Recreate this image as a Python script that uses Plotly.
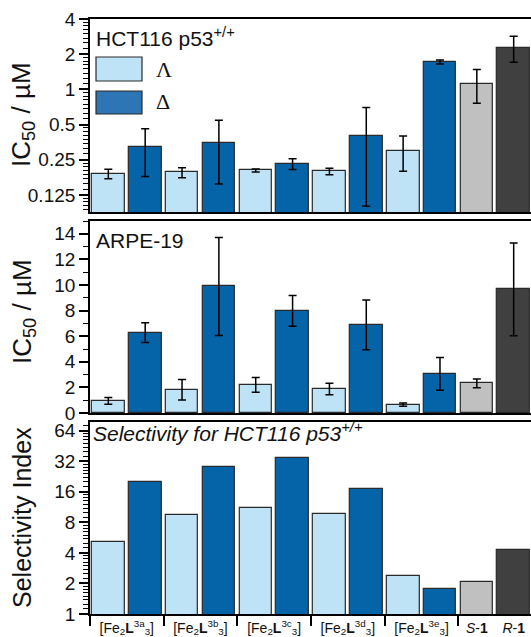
import numpy as np
import plotly.graph_objects as go

# ---------------- data ----------------
bar_names = ["Λ-[Fe2L3a3]", "Δ-[Fe2L3a3]", "Λ-[Fe2L3b3]", "Δ-[Fe2L3b3]",
             "Λ-[Fe2L3c3]", "Δ-[Fe2L3c3]", "Λ-[Fe2L3d3]", "Δ-[Fe2L3d3]",
             "Λ-[Fe2L3e3]", "Δ-[Fe2L3e3]", "S-1", "R-1"]
bar_kind = ["Λ", "Δ", "Λ", "Δ", "Λ", "Δ", "Λ", "Δ", "Λ", "Δ", "S", "R"]

hct_ic50 = [0.19, 0.32, 0.195, 0.35, 0.203, 0.231, 0.199, 0.40, 0.30, 1.72, 1.12, 2.28]
hct_err = [0.018, 0.14, 0.019, 0.195, 0.006, 0.024, 0.013, 0.30, 0.10, 0.067, 0.36, 0.57]

arpe_ic50 = [0.95, 6.28, 1.82, 9.89, 2.20, 7.97, 1.88, 6.88, 0.66, 3.05, 2.32, 9.66]
arpe_err = [0.27, 0.77, 0.80, 3.83, 0.58, 1.20, 0.45, 1.94, 0.13, 1.28, 0.34, 3.63]

selectivity = [5.08, 19.8, 9.5, 28.0, 11.0, 34.1, 9.6, 17.2, 2.38, 1.78, 2.07, 4.26]

group_labels = ["[Fe<sub>2</sub><b>L</b><sup>3a</sup><sub>3</sub>]",
                "[Fe<sub>2</sub><b>L</b><sup>3b</sup><sub>3</sub>]",
                "[Fe<sub>2</sub><b>L</b><sup>3c</sup><sub>3</sub>]",
                "[Fe<sub>2</sub><b>L</b><sup>3d</sup><sub>3</sub>]",
                "[Fe<sub>2</sub><b>L</b><sup>3e</sup><sub>3</sub>]",
                "<i>S</i>-<b>1</b>", "<i>R</i>-<b>1</b>"]
group_sizes = [2, 2, 2, 2, 2, 1, 1]

hct_ticks = [0.125, 0.25, 0.5, 1, 2, 4]
hct_ticktext = ["0.125", "0.25", "0.5", "1", "2", "4"]
sel_ticks = [1, 2, 4, 8, 16, 32, 64]

# ---------------- styling ----------------
W, H = 531, 637
FONT = "Liberation Sans, Arial, sans-serif"
TXT = "#111111"
color_map = {"Λ": "#BEE3F7", "Δ": "#0563A8", "S": "#C0C0C0", "R": "#404040"}
colors = [color_map[k] for k in bar_kind]
x = np.arange(len(bar_names))

# group tick positions and separators
edges = np.concatenate([[0], np.cumsum(group_sizes)])
group_centers = [(edges[i] + edges[i + 1] - 1) / 2 for i in range(len(group_sizes))]
separators = [edges[0] - 0.5] + [edges[i + 1] - 0.5 for i in range(len(group_sizes))
                                 if group_sizes[i] > 1] + [edges[-1] - 0.5]


def py(px):
    return 1 - px / H


def px_x(px):
    return px / W


def log_minor(majors, lo, hi, n=8):
    vals = []
    allm = [majors[0] / 2] + list(majors)
    for a in allm:
        for k in range(1, n):
            v = a + k * a / n
            if lo <= v <= hi:
                vals.append(v)
    return vals


fig = go.Figure()
bar_common = dict(x=x, width=0.885, marker=dict(color=colors, line=dict(color="#2a2a2a", width=1.2)),
                  showlegend=False, hoverinfo="skip")
err_style = dict(type="data", color="black", thickness=1.5, width=4)

fig.add_trace(go.Bar(y=hct_ic50, error_y=dict(array=hct_err, **err_style), xaxis="x", yaxis="y", **bar_common))
fig.add_trace(go.Bar(y=arpe_ic50, error_y=dict(array=arpe_err, **err_style), xaxis="x2", yaxis="y2", **bar_common))
fig.add_trace(go.Bar(y=selectivity, xaxis="x3", yaxis="y3", **bar_common))

xdom = [89.9 / W, 1]
xrange = [-0.5, 11.47]
line_style = dict(showline=True, linecolor="black", linewidth=1.5, mirror=True)

xcommon = dict(domain=xdom, range=xrange, showgrid=False, zeroline=False, automargin=False, **line_style)
fig.update_layout(
    xaxis=dict(anchor="y", showticklabels=False, ticks="", **xcommon),
    xaxis2=dict(anchor="y2", showticklabels=False, ticks="", **xcommon),
    xaxis3=dict(anchor="y3", tickmode="array", tickvals=group_centers, ticktext=group_labels,
                ticks="", tickfont=dict(family=FONT, size=14, color=TXT),
                minor=dict(tickmode="array", tickvals=separators, ticks="outside",
                           ticklen=10, tickwidth=1.5, tickcolor="black"),
                **xcommon),
)

ycommon = dict(showgrid=False, zeroline=False, showline=True, linecolor="black", linewidth=1.5,
               ticks="outside", ticklen=9, tickwidth=1.5, tickcolor="black", automargin=False,
               tickfont=dict(family=FONT, size=19, color=TXT))

fig.update_layout(
    yaxis=dict(anchor="x", domain=[py(212), py(19)], type="log",
               range=[np.log10(0.0895), np.log10(4) + 0.0003],
               tickmode="array", tickvals=hct_ticks, ticktext=hct_ticktext,
               minor=dict(tickmode="array", tickvals=log_minor(hct_ticks, 0.0895, 4),
                          ticks="outside", ticklen=5, tickwidth=1, tickcolor="black"),
               **ycommon),
    yaxis2=dict(anchor="x2", domain=[py(413), py(221)], range=[0, 15],
                tickmode="linear", tick0=0, dtick=2,
                minor=dict(tickmode="linear", tick0=1, dtick=2, ticks="outside",
                           ticklen=5, tickwidth=1, tickcolor="black"),
                **ycommon),
    yaxis3=dict(anchor="x3", domain=[py(614), py(422)], type="log",
                range=[0, np.log10(78)],
                tickmode="array", tickvals=sel_ticks, ticktext=[str(v) for v in sel_ticks],
                minor=dict(tickmode="array", tickvals=log_minor(sel_ticks, 1, 78),
                           ticks="outside", ticklen=5, tickwidth=1, tickcolor="black"),
                **ycommon),
)

annotations = [
    dict(text="IC<sub>50</sub> / µM", x=px_x(23), y=py(115), textangle=-90, font=dict(size=26)),
    dict(text="IC<sub>50</sub> / µM", x=px_x(23), y=py(312), textangle=-90, font=dict(size=26)),
    dict(text="Selectivity Index", x=px_x(22), y=py(518), textangle=-90, font=dict(size=25)),
    dict(text="HCT116 p53<sup>+/+</sup>", x=px_x(94), y=py(37), xanchor="left", font=dict(size=21)),
    dict(text="Λ", x=px_x(154), y=py(69), xanchor="left",
         font=dict(size=22, family="Liberation Serif, Times New Roman, serif")),
    dict(text="Δ", x=px_x(154), y=py(102), xanchor="left",
         font=dict(size=22, family="Liberation Serif, Times New Roman, serif")),
    dict(text="ARPE-19", x=px_x(94), y=py(240), xanchor="left", font=dict(size=21)),
    dict(text="<i>Selectivity for HCT116 p53<sup>+/+</sup></i>", x=px_x(91), y=py(432),
         xanchor="left", font=dict(size=21)),
]
for a in annotations:
    a.setdefault("xanchor", "center")
    a["yanchor"] = "middle"
    a["xref"] = "paper"
    a["yref"] = "paper"
    a["showarrow"] = False
    f = a["font"]
    f.setdefault("family", FONT)
    f.setdefault("color", TXT)

shapes = [
    dict(type="rect", xref="paper", yref="paper", x0=px_x(96), x1=px_x(142), y0=py(81), y1=py(57),
         fillcolor=color_map["Λ"], line=dict(color="#2a2a2a", width=1.2)),
    dict(type="rect", xref="paper", yref="paper", x0=px_x(96), x1=px_x(142), y0=py(114), y1=py(91),
         fillcolor="#2E75B6", line=dict(color="#2a2a2a", width=1.2)),
]

fig.update_layout(
    width=W, height=H, autosize=False,
    margin=dict(l=0, r=0, t=0, b=0),
    paper_bgcolor="white", plot_bgcolor="white",
    bargap=0, annotations=annotations, shapes=shapes,
    font=dict(family=FONT, color=TXT),
)

fig.write_html("out.html", config={"displayModeBar": False},
               post_script="document.body.style.margin='0px';document.body.style.overflow='hidden';")
